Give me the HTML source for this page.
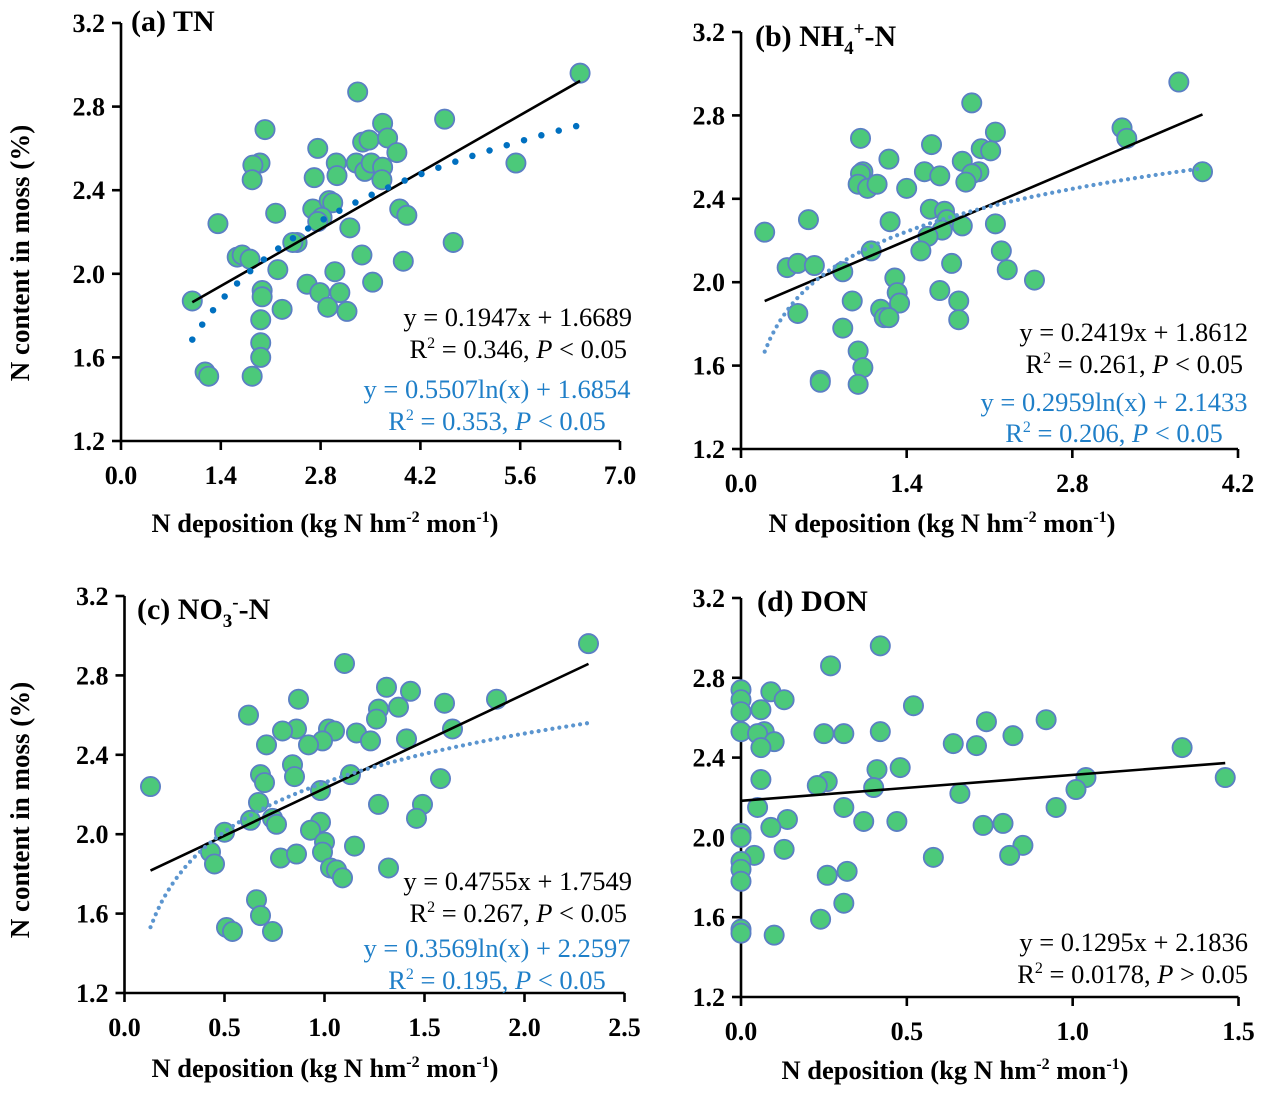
<!DOCTYPE html>
<html><head><meta charset="utf-8"><style>
html,body{margin:0;padding:0;background:#fff;}
svg{display:block;font-family:"Liberation Serif",serif;}
</style></head><body>
<svg id="fig" width="1267" height="1096" viewBox="0 0 1267 1096" xmlns="http://www.w3.org/2000/svg"></svg>
<script>
// Panel (a) TN
const aX=[3.32,4.54,2.02,3.67,3.39,3.48,3.74,3.87,1.95,1.85,1.84,2.76,3.02,3.03,2.71,3.30,3.42,3.51,3.67,3.66,1.36,2.17,2.69,2.92,2.97,2.82,2.76,3.21,3.91,4.01,4.66,2.47,2.41,1.63,1.70,1.81,3.38,3.96,2.20,3.00,2.61,2.79,3.07,3.53,1.98,1.98,1.00,2.90,3.17,2.26,1.96,1.96,1.96,1.18,1.23,1.84,6.44,5.54];
const aY=[2.87,2.74,2.69,2.72,2.63,2.64,2.65,2.58,2.53,2.52,2.45,2.60,2.53,2.47,2.46,2.53,2.49,2.53,2.51,2.45,2.24,2.29,2.31,2.35,2.34,2.27,2.25,2.22,2.31,2.28,2.15,2.15,2.15,2.08,2.09,2.07,2.09,2.06,2.02,2.01,1.95,1.91,1.91,1.96,1.92,1.89,1.87,1.84,1.82,1.83,1.78,1.67,1.60,1.53,1.51,1.51,2.96,2.53];
const aXTicks=["0.0","1.4","2.8","4.2","5.6","7.0"];
const aYTicks=["1.2","1.6","2.0","2.4","2.8","3.2"];
const aLin=[0.1947,1.6689]; const aLog=[0.5507,1.6854];
// Panel (b) NH4+-N
const bX=[3.70,1.95,3.22,3.26,2.15,1.01,1.61,2.03,2.11,1.25,1.87,1.03,1.01,1.55,1.68,2.01,1.95,1.90,0.99,1.07,1.15,1.40,3.90,0.57,0.20,1.26,1.60,1.72,1.74,1.70,1.87,1.58,2.15,1.10,1.52,2.20,0.39,0.48,0.62,0.86,1.78,2.25,2.48,1.30,1.32,1.34,1.18,1.21,1.25,1.68,1.84,1.84,0.94,0.48,0.86,0.99,1.03,0.67,0.67,0.99];
const bY=[2.96,2.86,2.74,2.69,2.72,2.69,2.66,2.64,2.63,2.59,2.58,2.53,2.52,2.53,2.51,2.53,2.52,2.48,2.47,2.45,2.47,2.45,2.53,2.30,2.24,2.29,2.35,2.34,2.30,2.25,2.27,2.22,2.28,2.15,2.15,2.15,2.07,2.09,2.08,2.05,2.09,2.06,2.01,2.02,1.95,1.90,1.87,1.83,1.83,1.96,1.91,1.82,1.91,1.85,1.78,1.67,1.59,1.53,1.52,1.51];
const bXTicks=["0.0","1.4","2.8","4.2"];
const bYTicks=["1.2","1.6","2.0","2.4","2.8","3.2"];
const bLin=[0.2419,1.8612]; const bLog=[0.2959,2.1433];
// Panel (c) NO3--N
const cX=[2.32,1.10,1.31,1.43,0.87,1.86,1.60,0.62,1.27,1.37,1.26,1.64,0.86,0.79,1.02,1.05,0.99,0.92,1.16,1.23,1.41,0.71,0.84,0.85,0.68,0.70,0.13,1.13,1.58,0.98,0.67,1.27,1.49,0.63,0.74,0.76,0.50,0.98,0.93,1.00,1.46,1.15,0.43,0.45,0.78,0.86,0.99,1.03,1.06,1.09,1.32,0.66,0.68,0.51,0.54,0.74];
const cY=[2.96,2.86,2.74,2.72,2.68,2.68,2.66,2.60,2.63,2.64,2.58,2.53,2.53,2.52,2.53,2.52,2.47,2.45,2.51,2.47,2.48,2.45,2.35,2.29,2.30,2.26,2.24,2.30,2.28,2.22,2.16,2.15,2.15,2.07,2.08,2.05,2.01,2.06,2.02,1.96,2.08,1.94,1.91,1.85,1.88,1.90,1.91,1.83,1.82,1.78,1.83,1.67,1.59,1.53,1.51,1.51];
const cXTicks=["0.0","0.5","1.0","1.5","2.0","2.5"];
const cYTicks=["1.2","1.6","2.0","2.4","2.8","3.2"];
const cLin=[0.4755,1.7549]; const cLog=[0.3569,2.2597];
// Panel (d) DON
const dX=[0.42,0.27,0.00,0.00,0.00,0.09,0.13,0.06,0.52,0.74,0.92,0.00,0.07,0.05,0.10,0.06,0.25,0.31,0.42,0.64,0.71,0.82,1.33,0.41,0.48,0.06,0.26,0.23,0.40,1.04,1.01,1.46,0.66,0.05,0.31,0.95,0.14,0.09,0.37,0.47,0.73,0.79,0.00,0.00,0.13,0.04,0.85,0.81,0.58,0.00,0.00,0.00,0.26,0.32,0.31,0.24,0.00,0.00,0.10];
const dY=[2.96,2.86,2.74,2.69,2.63,2.73,2.69,2.64,2.66,2.58,2.59,2.53,2.53,2.52,2.48,2.45,2.52,2.52,2.53,2.47,2.46,2.51,2.45,2.34,2.35,2.29,2.28,2.26,2.25,2.30,2.24,2.30,2.22,2.15,2.15,2.15,2.09,2.05,2.08,2.08,2.06,2.07,2.02,2.00,1.94,1.91,1.96,1.91,1.90,1.88,1.84,1.78,1.81,1.83,1.67,1.59,1.54,1.52,1.51];
const dXTicks=["0.0","0.5","1.0","1.5"];
const dYTicks=["1.2","1.6","2.0","2.4","2.8","3.2"];
const dLin=[0.1295,2.1836];

const NS="http://www.w3.org/2000/svg";
const svg=document.getElementById('fig');
function mk(tag,attrs,parent){const e=document.createElementNS(NS,tag);for(const k in attrs)e.setAttribute(k,attrs[k]);(parent||svg).appendChild(e);return e;}

function panel(cfg){
  const g=mk('g',{});
  
  
  const xmin=0,xmax=parseFloat(cfg.xt[cfg.xt.length-1]);
  const ymin=1.2,ymax=3.2;
  const sx=v=>cfg.x0+(v-xmin)/(xmax-xmin)*(cfg.x1-cfg.x0);
  const sy=v=>cfg.y0-(v-ymin)/(ymax-ymin)*(cfg.y0-cfg.y1);
  const ax=mk('path',{d:`M${cfg.x0} ${cfg.y1} V${cfg.y0} H${cfg.x1}`,fill:'none',stroke:'#000','stroke-width':2.6},g);
  
  
  cfg.xt.forEach(t=>{
    const v=parseFloat(t),x=sx(v);
    const tk=mk('line',{x1:x,x2:x,y1:cfg.y0,y2:cfg.y0+9,stroke:'#000','stroke-width':2.6},g);
    
    
    const tl=mk('text',{x:x,y:cfg.y0+43,'text-anchor':'middle','font-size':26,'font-weight':'bold'},g);
    tl.textContent=t;
    
    
  });
  cfg.yt.forEach(t=>{
    const v=parseFloat(t),y=sy(v);
    const tk=mk('line',{x1:cfg.x0-9,x2:cfg.x0,y1:y,y2:y,stroke:'#000','stroke-width':2.6},g);
    
    
    const tl=mk('text',{x:cfg.x0-16,y:y+9,'text-anchor':'end','font-size':26,'font-weight':'bold'},g);
    tl.textContent=t;
    
    
  });
  cfg.xs.forEach((xv,i)=>{
    const c=mk('circle',{cx:sx(xv),cy:sy(cfg.ys[i]),r:9.6,fill:'#4cc97a',stroke:'#5b7fc4','stroke-width':1.8},g);
    
    
  });
  const lo=Math.min(...cfg.xs.filter(v=>v>0)), hi=Math.max(...cfg.xs);
  const lx0=cfg.linFrom!==undefined?cfg.linFrom:lo;
  const ln=mk('line',{x1:sx(lx0),y1:sy(cfg.lin[0]*lx0+cfg.lin[1]),x2:sx(hi),y2:sy(cfg.lin[0]*hi+cfg.lin[1]),stroke:'#000','stroke-width':2.6},g);
  
  
  if(cfg.log){
    let d='';
    for(let k=0;k<=80;k++){const v=lo+(hi-lo)*k/80;d+=(k?'L':'M')+sx(v).toFixed(1)+' '+sy(cfg.log[0]*Math.log(v)+cfg.log[1]).toFixed(1);}
    const p=mk('path',{d:d,fill:'none',stroke:cfg.logColor,'stroke-width':cfg.logW,'stroke-linecap':'round','stroke-dasharray':cfg.logDash},g);
    
    
  }
  return g;
}

panel({name:'panel-a-tn',x0:121,x1:620,y0:441,y1:23,xt:aXTicks,yt:aYTicks,xs:aX,ys:aY,lin:aLin,log:aLog,logColor:'#0070c0',logW:6.5,logDash:'0 18'});
panel({name:'panel-b-nh4',x0:741,x1:1238,y0:449,y1:32,xt:bXTicks,yt:bYTicks,xs:bX,ys:bY,lin:bLin,log:bLog,logColor:'#5b95cf',logW:4.2,logDash:'0 7'});
panel({name:'panel-c-no3',x0:124.5,x1:624.5,y0:993,y1:596,xt:cXTicks,yt:cYTicks,xs:cX,ys:cY,lin:cLin,log:cLog,logColor:'#5b95cf',logW:4.2,logDash:'0 7'});
panel({name:'panel-d-don',x0:741,x1:1238.5,y0:997,y1:598,xt:dXTicks,yt:dYTicks,xs:dX,ys:dY,lin:dLin,log:null,linFrom:0});
</script>
<svg width="1267" height="1096" style="position:absolute;left:0;top:0" xmlns="http://www.w3.org/2000/svg">
<g font-family="Liberation Serif, serif">
<text x="131" y="31" font-size="30" font-weight="bold">(a) TN</text>
<text x="755" y="46" font-size="30" font-weight="bold">(b) NH<tspan font-size="19" dy="8">4</tspan><tspan font-size="19" dy="-19">+</tspan><tspan dy="11">-N</tspan></text>
<text x="137" y="619" font-size="30" font-weight="bold">(c) NO<tspan font-size="19" dy="8">3</tspan><tspan font-size="19" dy="-19">-</tspan><tspan dy="11">-N</tspan></text>
<text x="757" y="611" font-size="30" font-weight="bold">(d) DON</text>

<text transform="translate(29,253) rotate(-90)" text-anchor="middle" font-size="27" font-weight="bold">N content in moss (%)</text>
<text transform="translate(29,810) rotate(-90)" text-anchor="middle" font-size="27" font-weight="bold">N content in moss (%)</text>

<text x="325" y="532" text-anchor="middle" font-size="26.5" font-weight="bold">N deposition (kg N hm<tspan font-size="16" dy="-10">-2</tspan><tspan dy="10"> mon</tspan><tspan font-size="16" dy="-10">-1</tspan><tspan dy="10">)</tspan></text>
<text x="942" y="532" text-anchor="middle" font-size="26.5" font-weight="bold">N deposition (kg N hm<tspan font-size="16" dy="-10">-2</tspan><tspan dy="10"> mon</tspan><tspan font-size="16" dy="-10">-1</tspan><tspan dy="10">)</tspan></text>
<text x="325" y="1077" text-anchor="middle" font-size="26.5" font-weight="bold">N deposition (kg N hm<tspan font-size="16" dy="-10">-2</tspan><tspan dy="10">  mon</tspan><tspan font-size="16" dy="-10">-1</tspan><tspan dy="10">)</tspan></text>
<text x="955" y="1079" text-anchor="middle" font-size="26.5" font-weight="bold">N deposition (kg N hm<tspan font-size="16" dy="-10">-2</tspan><tspan dy="10"> mon</tspan><tspan font-size="16" dy="-10">-1</tspan><tspan dy="10">)</tspan></text>

<g font-size="26.5">
<text x="632" y="326" text-anchor="end">y = 0.1947x + 1.6689</text>
<text x="627" y="358" text-anchor="end">R<tspan font-size="16" dy="-10">2</tspan><tspan dy="10"> = 0.346, </tspan><tspan font-style="italic">P</tspan> &lt; 0.05</text>
<text x="497" y="398" text-anchor="middle" fill="#1f7fc8">y = 0.5507ln(x) + 1.6854</text>
<text x="497" y="430" text-anchor="middle" fill="#1f7fc8">R<tspan font-size="16" dy="-10">2</tspan><tspan dy="10"> = 0.353, </tspan><tspan font-style="italic">P</tspan> &lt; 0.05</text>

<text x="1248" y="341" text-anchor="end">y = 0.2419x + 1.8612</text>
<text x="1243" y="373" text-anchor="end">R<tspan font-size="16" dy="-10">2</tspan><tspan dy="10"> = 0.261, </tspan><tspan font-style="italic">P</tspan> &lt; 0.05</text>
<text x="1114" y="411" text-anchor="middle" fill="#1f7fc8">y = 0.2959ln(x) + 2.1433</text>
<text x="1114" y="442" text-anchor="middle" fill="#1f7fc8">R<tspan font-size="16" dy="-10">2</tspan><tspan dy="10"> = 0.206, </tspan><tspan font-style="italic">P</tspan> &lt; 0.05</text>

<text x="632" y="890" text-anchor="end">y = 0.4755x + 1.7549</text>
<text x="627" y="922" text-anchor="end">R<tspan font-size="16" dy="-10">2</tspan><tspan dy="10"> = 0.267, </tspan><tspan font-style="italic">P</tspan> &lt; 0.05</text>
<text x="497" y="957" text-anchor="middle" fill="#1f7fc8">y = 0.3569ln(x) + 2.2597</text>
<text x="497" y="989" text-anchor="middle" fill="#1f7fc8">R<tspan font-size="16" dy="-10">2</tspan><tspan dy="10"> = 0.195, </tspan><tspan font-style="italic">P</tspan> &lt; 0.05</text>

<text x="1248" y="951" text-anchor="end">y = 0.1295x + 2.1836</text>
<text x="1248" y="983" text-anchor="end">R<tspan font-size="16" dy="-10">2</tspan><tspan dy="10"> = 0.0178, </tspan><tspan font-style="italic">P</tspan> &gt; 0.05</text>
</g>
</g>
</svg>
</body></html>
